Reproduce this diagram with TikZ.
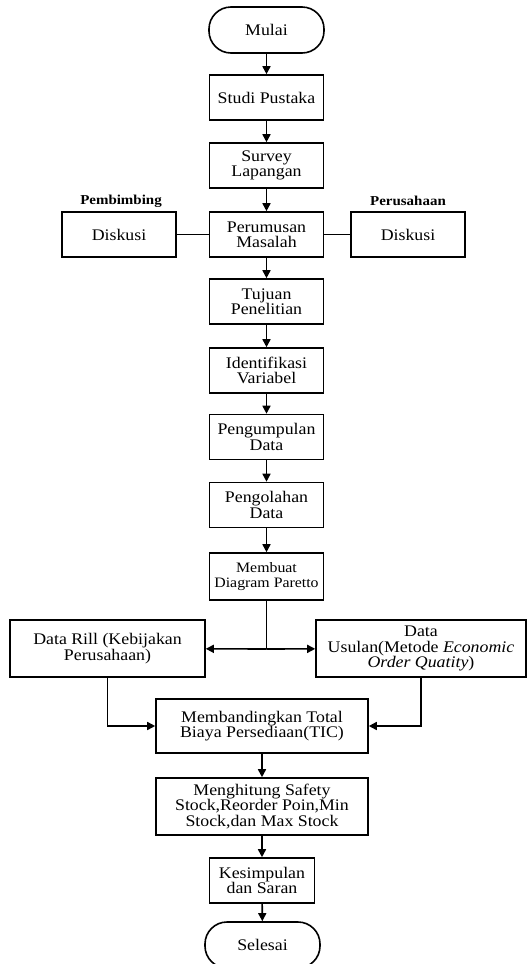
\documentclass[tikz,border=0pt]{standalone}
\usepackage{fontspec}
\setmainfont[FakeStretch=1.1]{Liberation Serif}
\usetikzlibrary{arrows.meta}
\tikzset{
  proses/.style = {draw, rectangle, line width = 0.8pt, align = center,
    minimum width = 57pt, minimum height = 22.5pt, inner sep = 1pt,
    font = \fontsize{8.1}{7.6}\selectfont},
  terminal/.style = {proses, rounded corners = 11pt, minimum width = 57.5pt, minimum height = 23pt},
  judul/.style = {font = \fontsize{6.8}{7}\selectfont\bfseries},
  panah/.style = {line width = 0.8pt, -{Triangle[length = 4pt, width = 4pt]}},
  garis/.style = {line width = 0.8pt}
}

\begin{document}
\begin{tikzpicture}[x = 0.5pt, y = -0.5pt]
			\useasboundingbox (0,0) rectangle (527,964);
			\node (mulai) at (266.5,30) [terminal] {Mulai};
			\node (studi) at (266.5,97.5) [proses] {Studi Pustaka};
			\node (survey) at (266.5,165.5) [proses] {Survey\\Lapangan};
			\node (rumus) at (266.5,234.5) [proses] {Perumusan\\Masalah};
			\node (diskusikiri) at (119,234.5) [proses] {Diskusi};
			\node (diskusikanan) at (408,234.5) [proses] {Diskusi};
			\node (pembimbing) at (121,201) [judul] {Pembimbing};
			\node (perusahaan) at (408,201) [judul] {Perusahaan};
			\node (tujuan) at (266.5,301.5) [proses] {Tujuan\\Penelitian};
			\node (identifikasi) at (266.5,370.5) [proses] {Identifikasi\\Variabel};
			\node (kumpul) at (266.5,437) [proses] {Pengumpulan\\Data};
			\node (olah) at (266.5,505) [proses] {Pengolahan\\Data};
			\node (paretto) at (266.5,576.5) [proses, minimum height = 23.5pt,
				font = \fontsize{7.2}{7.6}\selectfont] {Membuat\\Diagram Paretto};
			\node (rill) at (107.5,648.5) [proses, minimum width = 97.5pt, minimum height = 28.5pt]
				{Data Rill (Kebijakan\\Perusahaan)};
			\node (usulan) at (421,648.5) [proses, minimum width = 105pt, minimum height = 28.5pt]
				{Data\\Usulan(Metode \textit{Economic}\\\textit{Order Quatity})};
			\node (banding) at (262,726) [proses, minimum width = 106pt, minimum height = 27pt]
				{Membandingkan Total\\Biaya Persediaan(TIC)};
			\node (hitung) at (262,806.5) [proses, minimum width = 106pt, minimum height = 28.5pt]
				{Menghitung Safety\\Stock,Reorder Poin,Min\\Stock,dan Max Stock};
			\node (simpul) at (262,880.5) [proses, minimum width = 52.5pt] {Kesimpulan\\dan Saran};
			\node (selesai) at (262.5,945) [terminal] {Selesai};
			\coordinate (cabang) at (266.5,649);
			\draw[panah] (mulai) edge (studi);
			\draw[panah] (studi) edge (survey);
			\draw[panah] (survey) edge (rumus);
			\draw[garis] (diskusikiri) edge (rumus);
			\draw[garis] (rumus) edge (diskusikanan);
			\draw[panah] (rumus) edge (tujuan);
			\draw[panah] (tujuan) edge (identifikasi);
			\draw[panah] (identifikasi) edge (kumpul);
			\draw[panah] (kumpul) edge (olah);
			\draw[panah] (olah) edge (paretto);
			\draw[garis] (paretto) -- (cabang);
			\draw[panah] (cabang) -- (rill);
			\draw[panah] (cabang) -- (usulan);
			\draw[panah] (rill) |- (banding);
			\draw[panah] (usulan) |- (banding);
			\draw[panah] (banding) edge (hitung);
			\draw[panah] (hitung) edge (simpul);
			\draw[panah] (simpul) edge (selesai);
			\end{tikzpicture}
\end{document}
